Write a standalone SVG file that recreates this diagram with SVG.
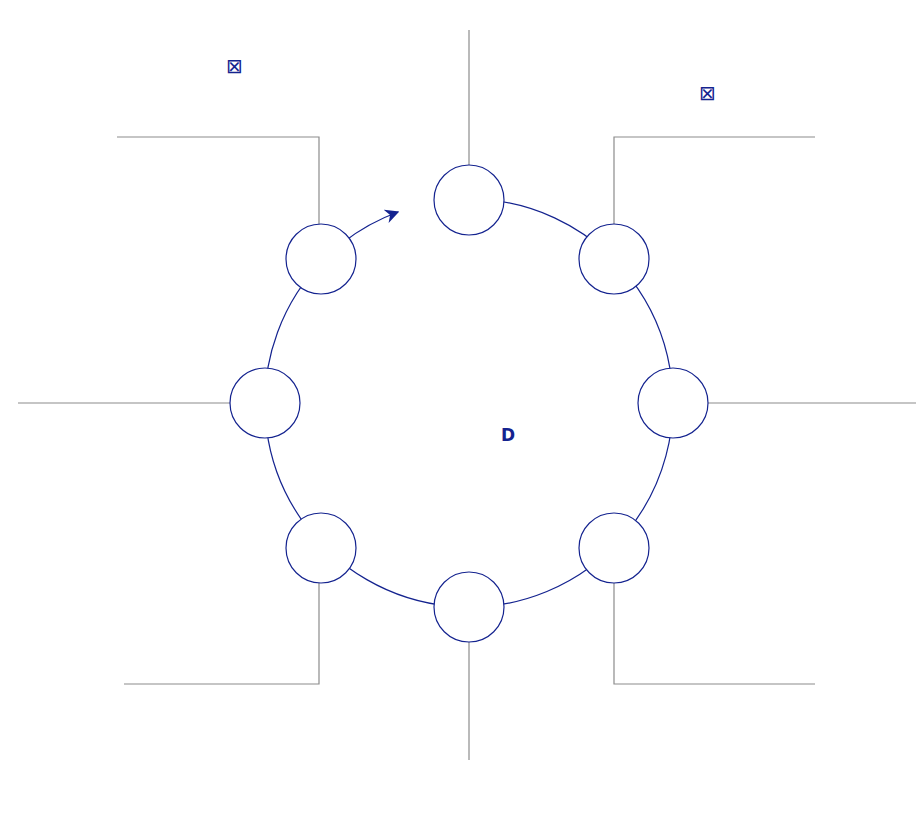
<svg xmlns="http://www.w3.org/2000/svg" width="923" height="826" viewBox="0 0 923 826">
<style>
.lead{stroke:#8c8c8c;stroke-width:1.2;fill:none}
.ring{stroke:#14238f;stroke-width:1.2;fill:none}
.node circle{fill:#fff;stroke:#14238f;stroke-width:1.2}
.lbl{font-family:"DejaVu Sans",sans-serif;fill:#14238f}
</style>
<defs>
<marker id="ah" viewBox="0 0 10 10" refX="9" refY="5" markerWidth="14" markerHeight="14" markerUnits="userSpaceOnUse" orient="auto">
<path d="M0,0 L10,5 L0,10 L3,5 Z" fill="#14238f"/>
</marker>
</defs>
<rect width="923" height="826" fill="#fff"/>
<g id="connectors">
<path class="lead" d="M469,30 V165"/>
<path class="lead" d="M117,137 H319 V225"/>
<path class="lead" d="M815,137 H614 V225"/>
<path class="lead" d="M18,403 H231"/>
<path class="lead" d="M708,403 H916"/>
<path class="lead" d="M124,684 H319 V583"/>
<path class="lead" d="M815,684 H614 V583"/>
<path class="lead" d="M469,642 V760"/>
<path class="ring" d="M469,199 A204,204 0 1 1 324.7,258.7"/>
<path class="ring" d="M343.4,242.2 A204,204 0 0 1 398,212" marker-end="url(#ah)"/>
</g>
<g id="n-top" class="node"><circle cx="469" cy="200" r="35"/></g>
<g id="n-topright" class="node"><circle cx="614" cy="259" r="35"/></g>
<g id="n-right" class="node"><circle cx="673" cy="403" r="35"/></g>
<g id="n-bottomright" class="node"><circle cx="614" cy="548" r="35"/></g>
<g id="n-bottom" class="node"><circle cx="469" cy="607" r="35"/></g>
<g id="n-bottomleft" class="node"><circle cx="321" cy="548" r="35"/></g>
<g id="n-left" class="node"><circle cx="265" cy="403" r="35"/></g>
<g id="n-topleft" class="node"><circle cx="321" cy="259" r="35"/></g>
<g id="labels">
<text class="lbl" x="226" y="73" font-size="20">⊠</text>
<text class="lbl" x="699" y="100" font-size="20">⊠</text>
<text class="lbl" x="501" y="441" font-size="17" font-weight="bold">D</text>
</g>
</svg>
